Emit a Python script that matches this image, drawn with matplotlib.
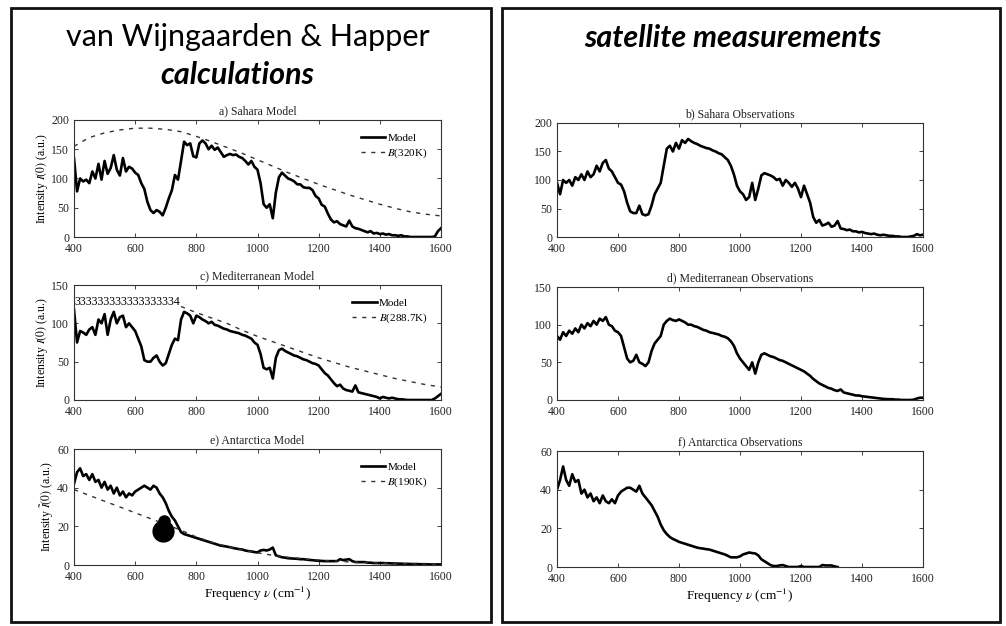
import matplotlib
matplotlib.use("Agg")
import matplotlib.pyplot as plt
import numpy as np
from matplotlib.patches import Rectangle

plt.rcParams["font.family"] = ["Liberation Serif", "DejaVu Serif"]
plt.rcParams["mathtext.fontset"] = "stix"

# ── frequency grids ─────────────────────────────────────
freq = np.arange(400, 1610, 10)          # spectra, every 10 cm^-1
freq_b = np.arange(400, 1610, 50)        # Planck curves, every 50 cm^-1
freq_b_med = np.arange(750, 1610, 50)

# ── a) Sahara model ─────────────────────────────────────
sahara_model = [
    135, 78, 100, 95, 98, 92, 112, 100, 125, 98,
    130, 108, 118, 140, 115, 105, 135, 112, 120, 117,
    110, 106, 92, 82, 60, 46, 41, 46, 43, 37,
    50, 66, 80, 106, 98, 130, 163, 157, 160, 138,
    136, 160, 165, 160, 150, 156, 149, 153, 145, 137,
    140, 142, 140, 141, 137, 135, 130, 124, 130, 120,
    115, 92, 56, 50, 56, 32, 76, 102, 110, 105,
    100, 98, 95, 90, 90, 85, 84, 84, 80, 70,
    66, 55, 52, 40, 30, 25, 27, 22, 20, 18,
    28, 18, 15, 14, 12, 10, 8, 10, 6, 7,
    5, 6, 4, 5, 3, 3, 2, 3, 1, 1,
    0, 0, 0, 0, 0, 0, 0, 0, 1, 10,
    15,
]
b_320 = [155, 170, 178, 183, 186, 186, 184, 180, 172, 163, 153, 143, 132,
         121, 110, 100, 90, 81, 72, 64, 56, 49, 43, 39, 36]

# ── c) Mediterranean model ──────────────────────────────
med_model = [
    118, 75, 90, 88, 85, 92, 95, 85, 105, 100,
    112, 85, 105, 115, 100, 108, 110, 95, 100, 95,
    90, 80, 70, 52, 50, 50, 55, 58, 50, 45,
    48, 60, 72, 80, 78, 105, 115, 113, 110, 100,
    110, 108, 105, 103, 100, 102, 98, 97, 95, 93,
    92, 90, 89, 88, 87, 85, 84, 82, 80, 75,
    72, 60, 42, 40, 42, 28, 55, 65, 67, 64,
    62, 60, 58, 57, 55, 53, 52, 50, 48, 47,
    45, 40, 35, 32, 27, 22, 18, 20, 15, 13,
    12, 11, 19, 10, 9, 8, 7, 6, 5, 4,
    2, 4, 3, 2, 3, 2, 1, 1, 0.5, 0,
    0, 0, 0, 0, 0, 0, 0, 0, 2, 5,
    8,
]
b_288 = [122, 114, 107, 100, 91, 83, 76, 69, 62, 55, 49, 43, 38, 33, 28,
         24, 20, 17]

# ── e) Antarctica model ─────────────────────────────────
ant_model = [
    42, 48, 50, 46, 47, 44, 47, 43, 44, 40,
    43, 39, 41, 37, 40, 36, 38, 35, 37, 36,
    38, 39, 40, 41, 40, 39, 41, 40, 37, 35,
    32, 28, 25, 23, 20, 17, 16, 15.5, 15, 14.5,
    14, 13.5, 13, 12.5, 12, 11.5, 11, 10.5, 10, 9.8,
    9.5, 9.2, 8.8, 8.5, 8.2, 8, 7.5, 7.2, 7, 6.7,
    6.5, 7.5, 7.8, 7.5, 8, 9, 5, 4.5, 4, 3.8,
    3.5, 3.4, 3.3, 3.2, 3, 3, 2.8, 2.6, 2.5, 2.3,
    2.2, 2.1, 2, 2, 2, 2, 2, 3, 2.5, 2.8,
    3, 2, 1.5, 1.5, 1.5, 1.5, 1.2, 1.2, 1, 1,
    1, 1, 0.9, 0.9, 0.8, 0.8, 0.7, 0.7, 0.6, 0.6,
    0.5, 0.5, 0.5, 0.4, 0.4, 0.4, 0.3, 0.3, 0.3, 0.3,
    0.3,
]
b_190 = [39, 36, 33, 30, 27, 24, 21, 18, 14.5, 11.8, 9.6, 7.8, 6.3, 5, 4,
         3.2, 2.5, 2, 1.6, 1.3, 1, 0.8, 0.6, 0.5, 0.4]
blob_x = [690, 693]
blob_y = [17.5, 23]

# ── b) Sahara observations ──────────────────────────────
sahara_obs = [
    95, 75, 100, 95, 100, 90, 105, 100, 110, 100,
    115, 105, 110, 125, 115, 130, 135, 120, 115, 105,
    95, 92, 80, 60, 45, 42, 42, 55, 40, 38,
    40, 55, 75, 85, 95, 125, 155, 160, 150, 165,
    155, 170, 165, 172, 168, 165, 163, 160, 158, 156,
    155, 152, 150, 147, 145, 140, 135, 125, 110, 90,
    80, 75, 65, 70, 95, 65, 85, 108, 112, 110,
    108, 105, 100, 102, 90, 100, 95, 88, 95, 85,
    70, 90, 75, 60, 35, 25, 30, 20, 22, 25,
    18, 20, 28, 15, 14, 12, 13, 10, 10, 8,
    9, 7, 6, 5, 6, 4, 3, 4, 3, 2,
    2, 1, 1, 0, 0, 0, 1, 2, 5, 3,
    4,
]

# ── d) Mediterranean observations ───────────────────────
med_obs = [
    85, 80, 90, 85, 92, 88, 95, 90, 100, 95,
    102, 98, 105, 100, 108, 105, 110, 100, 98, 92,
    90, 85, 70, 55, 50, 52, 60, 50, 48, 45,
    50, 65, 75, 80, 85, 100, 105, 108, 106, 105,
    107, 105, 103, 100, 100, 98, 97, 95, 93, 92,
    90, 89, 88, 87, 85, 84, 82, 78, 72, 62,
    55, 50, 45, 40, 50, 35, 50, 60, 62, 60,
    58, 57, 55, 53, 52, 50, 48, 46, 44, 42,
    40, 38, 35, 32, 28, 25, 22, 20, 18, 16,
    15, 13, 12, 14, 10, 9, 8, 7, 6, 6,
    5, 4.5, 4, 3.5, 3, 2.5, 2, 1.5, 1.2, 1,
    1, 0.5, 0.5, 0, 0, 0, 0, 0.5, 2, 3,
    3,
]

# ── f) Antarctica observations (ends near 1320) ─────────
freq_ant_obs = np.arange(400, 1330, 10)
ant_obs = [
    40, 45, 52, 45, 42, 48, 44, 45, 38, 40,
    36, 38, 34, 36, 33, 37, 34, 33, 35, 33,
    37, 39, 40, 41, 41, 40, 39, 42, 38, 36,
    34, 32, 29, 26, 22, 19, 17, 15.5, 14.5, 13.8,
    13, 12.5, 12, 11.5, 11, 10.5, 10, 9.7, 9.5, 9.2,
    9, 8.5, 8, 7.5, 7, 6.5, 5.8, 5, 5, 5,
    5.5, 6.5, 7, 7.5, 7.2, 7, 6, 4, 3, 2,
    1, 0.5, 0.5, 0.8, 1, 0.5, 0, 0, 0, 0,
    0.5, 0, 0, 0, 0, 0, 0, 1, 0.8, 0.8,
    0.8, 0.3, 0,
]

legend_a = ["Model", "$B$(320K)"]
legend_c = ["Model", "$B$(288.7K)"]
legend_e = ["Model", "$B$(190K)"]

W, H = 1006, 626
fig = plt.figure(figsize=(W / 100, H / 100), dpi=100)


def axes_px(left, right, top, bottom):
    return fig.add_axes([left / W, 1 - bottom / H, (right - left) / W, (bottom - top) / H])


def style(ax, ymax, ystep, title):
    ax.set_xlim(400, 1600)
    ax.set_ylim(0, ymax)
    ax.set_xticks(np.arange(400, 1601, 200))
    ax.set_yticks(np.arange(0, ymax + 1, ystep))
    ax.tick_params(direction="in", length=3, width=0.6, labelsize=8.5,
                   top=True, right=True, colors="#222222")
    ax.tick_params(axis="x", pad=4.5)
    ax.tick_params(axis="y", pad=3.5)
    for s in ax.spines.values():
        s.set_linewidth(0.8)
        s.set_color("#333333")
    ax.set_title(title, fontsize=8.5, pad=4, color="#222222")


LW = 1.9
DASH = dict(color="#333333", lw=1.0, ls=(0, (3, 4)))

# left column
ax = axes_px(74, 441, 120, 237)
ax.plot(freq, sahara_model, color="k", lw=LW, label=legend_a[0])
ax.plot(freq_b, b_320, **DASH, label=legend_a[1])
style(ax, 200, 50, "a) Sahara Model")
ax.set_ylabel("Intensity $I(0)$ (a.u.)", fontsize=8.5, labelpad=1)
ax.legend(loc="upper right", frameon=False, fontsize=8, handlelength=2.2,
          handletextpad=0.2, borderaxespad=0.8, labelspacing=0.3)

ax = axes_px(74, 441, 285, 400)
ax.plot(freq, med_model, color="k", lw=LW, label=legend_c[0])
ax.plot(freq_b_med, b_288, **DASH, label=legend_c[1])
ax.text(402, 128, "333333333333333334", fontsize=8.5, va="center", ha="left")
style(ax, 150, 50, "c) Mediterranean Model")
ax.set_ylabel("Intensity $I(0)$ (a.u.)", fontsize=8.5, labelpad=1)
ax.legend(loc="upper right", frameon=False, fontsize=8, handlelength=2.2,
          handletextpad=0.2, borderaxespad=0.8, labelspacing=0.3)

ax = axes_px(74, 441, 449, 565)
ax.plot(freq, ant_model, color="k", lw=LW, label=legend_e[0])
ax.plot(freq_b, b_190, **DASH, label=legend_e[1])
ax.plot(blob_x[0], blob_y[0], "o", color="k", ms=15)
ax.plot(blob_x[1], blob_y[1], "o", color="k", ms=8)
style(ax, 60, 20, "e) Antarctica Model")
ax.set_ylabel(r"Intensity $\tilde{I}(0)$ (a.u.)", fontsize=8.5, labelpad=1)
ax.set_xlabel(r"Frequency $\nu$ (cm$^{-1}$)", fontsize=9.5, labelpad=1)
ax.legend(loc="upper right", frameon=False, fontsize=8, handlelength=2.2,
          handletextpad=0.2, borderaxespad=0.8, labelspacing=0.3)

# right column
ax = axes_px(557, 923, 123, 237)
ax.plot(freq, sahara_obs, color="k", lw=LW)
style(ax, 200, 50, "b) Sahara Observations")

ax = axes_px(557, 923, 287, 400)
ax.plot(freq, med_obs, color="k", lw=LW)
style(ax, 150, 50, "d) Mediterranean Observations")

ax = axes_px(557, 923, 451, 567)
ax.plot(freq_ant_obs, ant_obs, color="k", lw=LW)
style(ax, 60, 20, "f) Antarctica Observations")
ax.set_xlabel(r"Frequency $\nu$ (cm$^{-1}$)", fontsize=9.5, labelpad=1)

# panel frames
for x0, x1 in [(11, 491), (502, 1000)]:
    fig.patches.append(Rectangle((x0 / W, 1 - 622 / H), (x1 - x0) / W, (622 - 8) / H,
                                 transform=fig.transFigure, fill=False,
                                 lw=2, edgecolor="#111111"))

# headings
fig.text(248 / W, 1 - 37 / H, "van Wijngaarden & Happer", family="Lato",
         fontsize=22, ha="center", va="center")
fig.text(237 / W, 1 - 75 / H, "calculations", family="Lato", fontsize=22,
         weight="bold", style="italic", ha="center", va="center")
fig.text(733 / W, 1 - 38 / H, "satellite measurements", family="Lato",
         fontsize=22, weight="bold", style="italic", ha="center", va="center")

fig.savefig("out.png", dpi=100)
